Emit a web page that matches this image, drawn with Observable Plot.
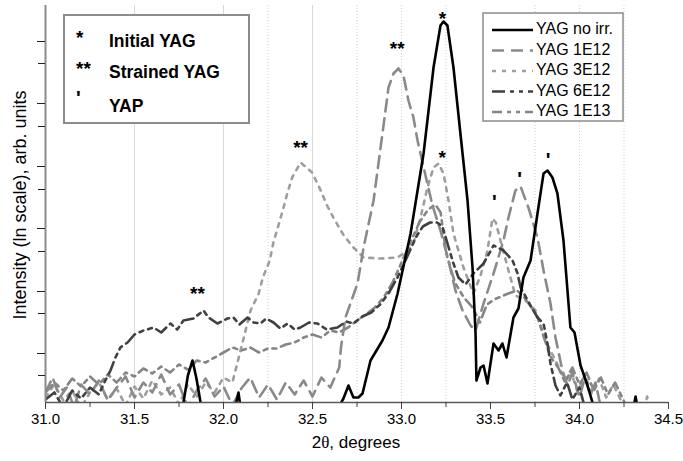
<!DOCTYPE html>
<html><head><meta charset="utf-8">
<script src="https://cdn.jsdelivr.net/npm/d3@7"></script>
<script src="https://cdn.jsdelivr.net/npm/@observablehq/plot@0.6"></script>
<style>body{margin:0;background:#fff;} #chart{width:683px;height:461px;}</style>
</head><body><div id="chart"></div>
<script>
// [2θ (degrees), intensity (ln scale, arb. units)]
const yagNoIrr = [[31.00,-1],[31.70,-1],[31.775,0],[31.80,2.7],[31.826,4.2],[31.848,2.4],[31.871,0],[31.90,-1],[32.06,-1],[32.084,1.0],[32.10,-1],[32.63,-1],[32.674,0.4],[32.702,1.7],[32.73,0.5],[32.758,0.5],[32.781,0.9],[32.826,4.2],[32.893,6.2],[32.927,7.5],[32.978,10.9],[33.051,16.9],[33.124,24.9],[33.18,33.5],[33.219,37.7],[33.236,38.1],[33.258,37.7],[33.292,33.5],[33.331,26.9],[33.371,20.2],[33.399,13.5],[33.416,6.9],[33.421,2.2],[33.444,3.5],[33.461,3.7],[33.483,1.9],[33.517,5.9],[33.545,5.2],[33.567,5.9],[33.59,4.5],[33.629,8.5],[33.657,9.4],[33.685,12.5],[33.725,14.2],[33.764,18.9],[33.798,22.9],[33.82,23.2],[33.848,22.5],[33.876,20.9],[33.91,16.2],[33.949,7.5],[33.972,7.0],[34.006,3.7],[34.045,1.7],[34.073,0],[34.10,-1],[34.298,-1],[34.315,0.6],[34.331,-1],[34.5,-1]];
const yag1E12 = [[31.00,1.0],[31.04,2.5],[31.08,0.5],[31.12,1.5],[31.16,-0.5],[31.20,1.8],[31.25,0.8],[31.30,2.2],[31.35,0.2],[31.40,1.5],[31.45,2.6],[31.50,0.5],[31.55,2.0],[31.60,1.0],[31.65,2.8],[31.70,0.8],[31.75,1.8],[31.80,-0.5],[31.85,1.2],[31.90,2.4],[31.95,0.6],[32.00,1.6],[32.05,-0.3],[32.10,1.4],[32.15,2.5],[32.20,0.5],[32.25,1.8],[32.30,0.3],[32.35,2.0],[32.40,0.8],[32.45,2.2],[32.50,0.6],[32.55,2.5],[32.60,1.5],[32.65,3.5],[32.66,5.5],[32.685,8.5],[32.753,11.9],[32.787,15.5],[32.843,20.2],[32.893,26.9],[32.927,31.5],[32.955,32.9],[32.983,33.4],[33.011,32.7],[33.039,30.2],[33.067,28.5],[33.09,26.2],[33.135,22.7],[33.174,19.7],[33.219,17.2],[33.264,14.2],[33.303,11.2],[33.343,9.2],[33.388,7.7],[33.416,7.2],[33.461,9.9],[33.517,12.9],[33.573,16.2],[33.601,18.5],[33.64,21.2],[33.669,21.6],[33.713,19.5],[33.764,16.5],[33.798,13.2],[33.837,9.9],[33.865,6.5],[33.904,3.2],[33.933,1.7],[33.96,3.0],[34.0,0.5],[34.03,2.5],[34.06,0.8],[34.09,2.0],[34.12,-0.5],[34.2,-1],[34.5,-1]];
const yag3E12 = [[31.00,0.5],[31.05,1.8],[31.10,0.2],[31.15,1.2],[31.20,-0.5],[31.25,1.0],[31.30,2.0],[31.35,0.3],[31.40,1.4],[31.45,-0.3],[31.50,1.6],[31.55,0.4],[31.60,2.2],[31.65,0.8],[31.70,1.5],[31.75,-0.2],[31.80,1.8],[31.85,0.6],[31.90,2.0],[31.95,1.0],[32.00,2.5],[32.05,2.0],[32.10,5.5],[32.152,9.2],[32.198,10.9],[32.221,12.5],[32.26,14.2],[32.279,15.9],[32.305,17.5],[32.333,19.2],[32.358,20.9],[32.386,22.5],[32.433,24.0],[32.498,23.0],[32.541,21.4],[32.582,19.7],[32.62,18.4],[32.676,16.7],[32.73,15.5],[32.787,14.5],[32.882,14.4],[32.978,14.5],[33.034,15.2],[33.067,15.9],[33.107,18.5],[33.146,21.5],[33.18,23.5],[33.208,23.9],[33.236,22.9],[33.264,20.2],[33.292,16.9],[33.348,13.5],[33.404,10.9],[33.444,12.7],[33.483,15.2],[33.511,18.4],[33.53,18.0],[33.556,16.2],[33.601,13.2],[33.64,10.7],[33.697,10.2],[33.753,9.2],[33.809,6.2],[33.865,4.2],[33.921,2.2],[33.95,3.2],[33.99,1.0],[34.03,2.8],[34.07,0.8],[34.11,2.4],[34.15,0.5],[34.19,1.8],[34.23,0.3],[34.26,-1],[34.36,-1],[34.38,0.6],[34.40,-1],[34.5,-1]];
const yag6E12 = [[31.00,0.3],[31.05,1.0],[31.10,-0.5],[31.15,1.2],[31.20,0.4],[31.25,1.5],[31.30,0.8],[31.33,2.0],[31.365,3.2],[31.393,4.5],[31.421,5.5],[31.461,6.0],[31.50,6.8],[31.551,7.2],[31.607,7.5],[31.65,7.0],[31.702,7.9],[31.74,7.3],[31.775,8.2],[31.831,8.4],[31.888,9.2],[31.916,8.5],[31.966,7.9],[32.022,8.4],[32.056,8.5],[32.09,7.8],[32.135,8.5],[32.17,8.0],[32.208,7.9],[32.24,8.4],[32.281,8.0],[32.32,7.4],[32.36,7.9],[32.40,7.3],[32.433,7.5],[32.48,8.0],[32.528,7.9],[32.58,7.3],[32.64,7.5],[32.69,8.1],[32.73,7.9],[32.78,8.6],[32.83,9.0],[32.88,9.8],[32.93,11.0],[32.98,12.6],[33.03,14.5],[33.08,16.5],[33.12,17.6],[33.16,18.0],[33.2,18.0],[33.23,17.6],[33.26,15.8],[33.29,14.0],[33.32,12.5],[33.36,11.8],[33.404,12.9],[33.461,13.9],[33.517,15.7],[33.573,15.2],[33.624,14.2],[33.652,12.9],[33.669,11.5],[33.725,9.7],[33.764,8.5],[33.798,7.9],[33.82,5.9],[33.837,3.9],[33.865,1.7],[33.893,0.7],[33.93,2.0],[33.96,0.3],[34.0,1.5],[34.03,-0.5],[34.1,-1],[34.5,-1]];
const yag1E13 = [[31.00,1.0],[31.05,2.0],[31.10,1.2],[31.15,2.4],[31.20,1.6],[31.25,2.6],[31.30,1.8],[31.35,2.8],[31.40,2.0],[31.45,3.0],[31.50,2.6],[31.55,3.4],[31.60,2.9],[31.65,3.6],[31.70,3.0],[31.75,3.8],[31.80,3.3],[31.85,4.2],[31.90,4.0],[31.95,4.5],[32.00,5.0],[32.05,5.5],[32.10,5.2],[32.15,5.5],[32.20,5.0],[32.25,5.4],[32.30,5.4],[32.35,5.8],[32.40,6.0],[32.45,6.5],[32.50,6.8],[32.55,6.5],[32.60,7.2],[32.65,7.0],[32.70,7.5],[32.75,8.2],[32.80,8.8],[32.85,9.5],[32.90,10.5],[32.95,12.0],[33.00,14.0],[33.05,16.0],[33.10,18.0],[33.15,19.3],[33.19,19.8],[33.22,19.0],[33.25,15.0],[33.30,12.0],[33.35,10.5],[33.40,9.5],[33.44,8.0],[33.48,9.8],[33.52,10.3],[33.56,10.6],[33.60,10.9],[33.65,11.2],[33.69,10.5],[33.73,9.5],[33.76,8.8],[33.80,6.5],[33.84,4.5],[33.88,3.5],[33.92,2.0],[33.96,3.5],[34.00,1.8],[34.04,3.0],[34.08,1.2],[34.12,2.5],[34.16,0.8],[34.20,2.0],[34.24,0.5],[34.28,-1],[34.5,-1]];

const seriesNames = ["YAG no irr.","YAG 1E12","YAG 3E12","YAG 6E12","YAG 1E13"];
const xMajorTicks = [31.0,31.5,32.0,32.5,33.0,33.5,34.0,34.5];
const xMinorTicks = [31.25,31.75,32.25,32.75,33.25,33.75,34.25];
const yMajorTicks = [4.9,11.1,17.4,23.6,29.9,36.1];
const yMinorTicks = [2.7,8.9,15.1,21.3,27.6,33.9];
const gridSolid = [31.5,32.0,32.5];
const gridDotted = [32.25,32.75,33.0,33.25,33.75,34.0,34.25];
const peakMarks = [
  {x:33.23,y:38.9,t:"*"},{x:32.976,y:35.9,t:"**"},{x:33.229,y:25.0,t:"*"},
  {x:32.433,y:26.0,t:"**"},{x:31.854,y:11.4,t:"**"}
];
const yapMarks = [{x:33.824,y:24.8,t:"'"},{x:33.663,y:22.9,t:"'"},{x:33.522,y:20.6,t:"'"}];
const boxLines = [["*","Initial YAG"],["**","Strained YAG"],["'","YAP"]];

const styles = {
  "YAG no irr.": {data: yagNoIrr, stroke:"#000000", dash:null, w:2.6},
  "YAG 1E12": {data: yag1E12, stroke:"#8a8a8a", dash:"12,7", w:2.6},
  "YAG 3E12": {data: yag3E12, stroke:"#9e9e9e", dash:"4,6", w:2.6},
  "YAG 6E12": {data: yag6E12, stroke:"#404040", dash:"13,5,4,5,4,5", w:2.6},
  "YAG 1E13": {data: yag1E13, stroke:"#858585", dash:"10,5,4,5,4,5", w:2.6}
};
const drawOrder = ["YAG 3E12","YAG 1E13","YAG 1E12","YAG 6E12","YAG no irr."];

const plot = Plot.plot({
  width: 683, height: 461,
  marginLeft: 45, marginRight: 15, marginTop: 5, marginBottom: 59,
  x: {domain: [31, 34.5], axis: null},
  y: {domain: [0, 39.7], axis: null},
  style: {fontFamily: "'Liberation Sans', Arial, sans-serif", fontSize: "15px", color: "#000", background: "#fff"},
  marks: [
    Plot.ruleX(gridSolid, {stroke: "#d9d9d9", strokeWidth: 1}),
    Plot.ruleX(gridDotted, {stroke: "#d0d0d0", strokeWidth: 1, strokeDasharray: "1,2"}),
    ...drawOrder.map(n => Plot.line(styles[n].data, {
      x: d => d[0], y: d => d[1], stroke: styles[n].stroke, strokeWidth: styles[n].w,
      strokeDasharray: styles[n].dash, clip: true, strokeLinejoin: "round"
    })),
    Plot.text(peakMarks, {x: "x", y: "y", text: "t", fontSize: 19, fontWeight: "bold", dy: 5, fill: "#000"}),
    Plot.text(yapMarks, {x: "x", y: "y", text: "t", fontSize: 20, fontWeight: "bold", dy: 6, fill: "#000"}),
    Plot.ruleY([0], {stroke: "#595959", strokeWidth: 1.5}),
    Plot.ruleX([31], {stroke: "#8c8c8c", strokeWidth: 2}),
    Plot.axisX({ticks: xMajorTicks, tickSize: 7, tickPadding: 4, tickFormat: d3.format(".1f"), label: null, fontSize: 15, stroke: "#404040"}),
    Plot.axisX({ticks: xMinorTicks, tickSize: 5, tickFormat: () => "", label: null, stroke: "#404040"}),
    Plot.axisY({ticks: yMajorTicks, tickSize: 8, tickFormat: () => "", label: null, stroke: "#222"}),
    Plot.axisY({ticks: yMinorTicks, tickSize: 7, tickFormat: () => "", label: null, stroke: "#222"})
  ]
});
document.getElementById("chart").appendChild(plot);

const svg = d3.select(plot);
const ff = "'Liberation Sans', Arial, sans-serif";
// axis titles
const xt = svg.append("text").attr("x", 356).attr("y", 444).attr("text-anchor", "middle")
  .attr("dominant-baseline", "middle").attr("font-family", ff).attr("font-size", 17).attr("fill", "#000");
xt.append("tspan").text("2");
xt.append("tspan").attr("font-family", "'Liberation Serif', 'DejaVu Serif', serif").text("θ");
xt.append("tspan").text(", degrees");
svg.append("text").attr("transform", "translate(21,205) rotate(-90)").attr("text-anchor", "middle")
  .attr("dominant-baseline", "middle").attr("font-family", ff).attr("font-size", 18).attr("fill", "#000")
  .text("Intensity (ln scale), arb. units");

// annotation box
const ab = svg.append("g");
ab.append("rect").attr("x", 64).attr("y", 15).attr("width", 185).attr("height", 108)
  .attr("fill", "#fff").attr("stroke", "#8c8c8c").attr("stroke-width", 2);
const rowY = [42, 73, 107];
boxLines.forEach(([sym, lab], i) => {
  ab.append("text").attr("x", 76).attr("y", rowY[i] + (sym === "'" ? -7 : -3)).attr("text-anchor", "start")
    .attr("dominant-baseline", "middle")
    .attr("font-family", ff).attr("font-weight", "bold").attr("font-size", sym === "'" ? 20 : 19).attr("fill", "#000").text(sym);
  ab.append("text").attr("x", 109).attr("y", rowY[i]).attr("text-anchor", "start").attr("dominant-baseline", "middle")
    .attr("font-family", ff).attr("font-weight", "bold").attr("font-size", 17.5).attr("fill", "#000").text(lab);
});

// legend
const lg = svg.append("g");
lg.append("rect").attr("x", 483).attr("y", 13).attr("width", 140).attr("height", 108)
  .attr("fill", "#fff").attr("stroke", "#8c8c8c").attr("stroke-width", 1.5);
const legY = [30, 50.5, 71, 91.5, 112];
seriesNames.forEach((n, i) => {
  const s = styles[n];
  lg.append("line").attr("x1", 492).attr("x2", 533).attr("y1", legY[i]).attr("y2", legY[i])
    .attr("stroke", s.stroke).attr("stroke-width", s.w).attr("stroke-dasharray", s.dash);
  lg.append("text").attr("x", 536).attr("y", legY[i]).attr("text-anchor", "start").attr("dominant-baseline", "middle")
    .attr("font-family", ff).attr("font-size", 16).attr("fill", "#000").text(n);
});
</script>
</body></html>
